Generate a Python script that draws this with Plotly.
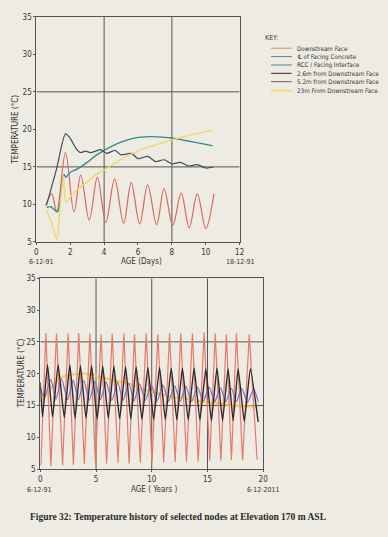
import plotly.graph_objects as go

W, H = 388, 537

# ---------------- Top chart data (age in days) ----------------
top_day_ticks = [0, 2, 4, 6, 8, 10, 12]
top_temp_ticks = [5, 10, 15, 20, 25, 30, 35]

downstream_days = [0.55, 0.9, 1.2, 1.72, 2.22, 2.62, 3.12, 3.6, 4.1, 4.62, 5.15, 5.6, 6.1,
                   6.57, 7.1, 7.54, 8.05, 8.55, 9.02, 9.5, 10.0, 10.48]
downstream_temp = [9.8, 11.4, 9.1, 16.9, 9.0, 13.9, 7.9, 13.6, 7.6, 13.4, 7.5, 12.9, 7.4,
                   12.6, 7.3, 12.1, 7.2, 11.5, 6.9, 11.4, 6.8, 11.4]

centre_days = [0.6, 1.2, 1.72, 2.0, 2.35, 2.6, 2.9, 3.2, 3.5, 3.8, 4.15, 4.64, 5.0, 5.6,
               6.0, 6.57, 7.05, 7.54, 8.0, 8.5, 9.0, 9.5, 10.0, 10.43]
centre_temp = [9.9, 14.8, 19.4, 18.8, 17.4, 16.9, 17.1, 16.9, 17.1, 17.3, 16.8, 17.2, 16.6, 16.8,
               16.1, 16.4, 15.7, 15.95, 15.4, 15.6, 15.1, 15.3, 14.85, 14.95]

rcc_days = [0.6, 0.85, 1.25, 1.5, 1.64, 1.74, 1.95, 2.4, 3.0, 3.5, 4.0, 4.5, 5.0, 5.7,
            6.4, 7.15, 8.0, 8.6, 9.3, 10.0, 10.4]
rcc_temp = [9.6, 9.7, 9.0, 12.5, 14.0, 13.6, 14.2, 14.7, 15.6, 16.5, 17.2, 17.8, 18.3, 18.8,
            19.0, 19.0, 18.85, 18.6, 18.3, 18.0, 17.8]

far_days = [0.6, 0.9, 1.2, 1.45, 1.6, 1.75, 2.2, 2.6, 3.0, 3.5, 4.0, 4.5, 5.0, 5.5, 6.0,
            7.0, 8.0, 9.0, 10.4]
far_temp = [9.3, 7.5, 5.3, 11.0, 13.8, 10.3, 11.5, 12.3, 13.0, 13.9, 14.6, 15.3, 16.0, 16.6, 17.1,
            17.9, 18.6, 19.2, 19.9]

# ---------------- Bottom chart data (age in years) ----------------
bot_year_ticks = [0, 5, 10, 15, 20]
bot_temp_ticks = [5, 10, 15, 20, 25, 30, 35]

face_years = [0.05, 0.5, 0.95, 1.45, 2.0, 2.5, 2.97, 3.45, 3.95, 4.45,
              4.95, 5.45, 5.95, 6.45, 6.97, 7.5, 7.97, 8.45, 8.97, 9.5,
              10.02, 10.55, 11.07, 11.6, 12.1, 12.6, 13.12, 13.65, 14.17, 14.7,
              15.2, 15.7, 16.2, 16.7, 17.15, 17.6, 18.15, 18.75, 19.45]
face_temp = [5.6, 26.4, 5.5, 26.3, 5.6, 26.3, 5.7, 26.4, 5.8, 26.3,
             5.8, 26.2, 5.9, 26.3, 6.0, 26.3, 5.9, 26.2, 6.0, 26.3,
             6.0, 26.2, 6.1, 26.4, 6.1, 26.3, 6.2, 26.3, 6.2, 26.5,
             6.3, 26.3, 6.3, 26.2, 6.4, 26.3, 6.4, 26.2, 6.5]

node26_years = [0.0, 0.2, 0.65, 1.1, 1.6, 2.15, 2.65, 3.12, 3.6, 4.1,
                4.6, 5.1, 5.6, 6.1, 6.6, 7.12, 7.65, 8.12, 8.6, 9.12,
                9.65, 10.17, 10.7, 11.22, 11.75, 12.25, 12.75, 13.27, 13.8, 14.32,
                14.85, 15.35, 15.85, 16.35, 16.85, 17.3, 17.75, 18.3, 18.85, 19.55]
node26_temp = [18.6, 13.2, 21.4, 13.2, 21.4, 13.1, 21.4, 13.0, 21.3, 13.0,
               21.3, 12.9, 21.2, 13.0, 21.2, 12.9, 21.1, 12.9, 21.1, 12.8,
               21.0, 12.8, 21.0, 12.8, 20.9, 12.7, 20.9, 12.7, 20.9, 12.7,
               20.8, 12.6, 20.9, 12.6, 20.8, 12.6, 20.8, 12.5, 20.8, 12.4]

node52_years = [0.0, 0.35, 0.95, 1.4, 1.9, 2.45, 2.95, 3.42, 3.9, 4.4,
                4.9, 5.4, 5.9, 6.42, 6.95, 7.42, 7.95, 8.42, 8.9, 9.42,
                9.95, 10.47, 11.0, 11.52, 12.05, 12.55, 13.05, 13.57, 14.1, 14.62,
                15.15, 15.65, 16.15, 16.65, 17.15, 17.6, 18.05, 18.6, 19.15, 19.55]
node52_temp = [17.9, 16.2, 19.1, 16.0, 19.2, 15.9, 19.0, 15.9, 18.9, 15.8,
               18.8, 15.9, 18.7, 15.8, 18.6, 15.8, 18.5, 15.7, 18.4, 15.8,
               18.3, 15.7, 18.2, 15.7, 18.1, 15.7, 18.0, 15.6, 17.9, 15.7,
               17.9, 15.6, 17.8, 15.6, 17.7, 15.6, 17.7, 15.5, 17.6, 15.6]

node23_years = [0, 0.5, 1, 1.5, 2, 3, 4, 5, 6, 7, 8, 9, 10, 11, 12, 13, 14, 15, 16, 17, 18, 19.5]
node23_temp = [15.6, 16.5, 17.8, 18.8, 19.5, 19.9, 20.0, 19.7, 19.2, 18.8, 18.4, 17.7, 17.1,
               16.7, 16.3, 16.1, 15.8, 15.5, 15.3, 15.1, 14.9, 14.8]

key_labels = ["Downstream Face", "\u2104 of Facing Concrete", "RCC / Facing Interface",
              "2.6m from Downstream Face", "5.2m from Downstream Face", "23m From Downstream Face"]
key_colors = ["#d98a6a", "#6d7b88", "#3f8c8c", "#2a2a2a", "#86506e", "#f0d878"]

# ---------------- styling ----------------
BG = "#eeebe3"
AX = "#555555"
FAM = "Liberation Sans Narrow, DejaVu Sans Condensed, Roboto Condensed, sans-serif"
TICKFONT = dict(family=FAM, size=8, color="#333333")
RED, DARK, TEAL, YEL = "#d9665f", "#3d5060", "#2f8a8a", "#efd864"
BRED, BBLACK, BPURP, BYEL = "#e9786b", "#2b2b2b", "#7a72c4", "#f0d060"


def px(x):
    return x / W


def py(y):
    return 1 - y / H


fig = go.Figure()

# top traces
fig.add_trace(go.Scatter(x=downstream_days, y=downstream_temp, mode="lines", name=key_labels[0],
                         line=dict(color=RED, width=1.2, shape="spline", smoothing=1.0),
                         xaxis="x", yaxis="y"))
fig.add_trace(go.Scatter(x=rcc_days, y=rcc_temp, mode="lines", name=key_labels[2],
                         line=dict(color=TEAL, width=1.3, shape="spline", smoothing=0.7),
                         xaxis="x", yaxis="y"))
fig.add_trace(go.Scatter(x=centre_days, y=centre_temp, mode="lines", name=key_labels[1],
                         line=dict(color=DARK, width=1.2, shape="spline", smoothing=0.7),
                         xaxis="x", yaxis="y"))
fig.add_trace(go.Scatter(x=far_days, y=far_temp, mode="lines", name=key_labels[5],
                         line=dict(color=YEL, width=1.4, shape="spline", smoothing=0.6),
                         xaxis="x", yaxis="y"))

# bottom traces
fig.add_trace(go.Scatter(x=node23_years, y=node23_temp, mode="lines", name=key_labels[5],
                         line=dict(color=BYEL, width=2.2, shape="spline", smoothing=1.0),
                         xaxis="x2", yaxis="y2"))
fig.add_trace(go.Scatter(x=face_years, y=face_temp, mode="lines", name=key_labels[0],
                         line=dict(color=BRED, width=1.2),
                         xaxis="x2", yaxis="y2"))
fig.add_trace(go.Scatter(x=node52_years, y=node52_temp, mode="lines", name=key_labels[4],
                         line=dict(color=BPURP, width=1.2, shape="spline", smoothing=0.6),
                         xaxis="x2", yaxis="y2"))
fig.add_trace(go.Scatter(x=node26_years, y=node26_temp, mode="lines", name=key_labels[3],
                         line=dict(color=BBLACK, width=1.4, shape="spline", smoothing=0.4),
                         xaxis="x2", yaxis="y2"))

axis_common = dict(showgrid=False, zeroline=False, showline=True, mirror=True,
                   linecolor=AX, linewidth=1, ticks="outside", ticklen=2, tickcolor=AX,
                   tickfont=TICKFONT)

shapes = []
# grid lines
for v in [4, 8]:
    shapes.append(dict(type="line", xref="x", yref="y", x0=v, x1=v, y0=5, y1=35,
                       line=dict(color=AX, width=1), layer="below"))
for v in [15, 25]:
    shapes.append(dict(type="line", xref="x", yref="y", x0=0, x1=12, y0=v, y1=v,
                       line=dict(color=AX, width=1), layer="below"))
for v in [5, 10, 15]:
    shapes.append(dict(type="line", xref="x2", yref="y2", x0=v, x1=v, y0=5, y1=35,
                       line=dict(color=AX, width=1), layer="below"))
for v in [15, 25]:
    shapes.append(dict(type="line", xref="x2", yref="y2", x0=0, x1=20, y0=v, y1=v,
                       line=dict(color=AX, width=1), layer="below"))

annotations = []
LBL = dict(family=FAM, size=8, color="#333333")


def text(x, y, s, size=8, anchor="center", angle=0):
    f = dict(LBL)
    f["size"] = size
    annotations.append(dict(x=px(x), y=py(y), xref="paper", yref="paper", text=s,
                            showarrow=False, xanchor=anchor, yanchor="middle",
                            textangle=angle, font=f))


# top chart labels
text(40, 262, "6-12-91", 7)
text(243, 262, "18-12-91", 7)
text(142, 262, "AGE (Days)", 8)
text(14, 128, "TEMPERATURE (\u00b0C)", 8, angle=-90)
# bottom chart labels
text(38, 494, "6-12-91", 7)
text(155, 494, "AGE ( Years )", 8)
text(266, 494, "6-12-2011", 7)
text(20, 376, "TEMPERATURE (\u00b0C)", 8, angle=-90)

# key
text(266, 35, "KEY:", 7, anchor="left")
key_y = [45, 53.5, 62, 70.5, 79, 88]
for lab, col, yy in zip(key_labels, key_colors, key_y):
    shapes.append(dict(type="line", xref="paper", yref="paper", x0=px(274), x1=px(295),
                       y0=py(yy), y1=py(yy), line=dict(color=col, width=2 if col == "#f0d878" else 1)))
    text(298, yy, lab, 6.3, anchor="left")

# caption
annotations.append(dict(x=px(26), y=py(522), xref="paper", yref="paper",
                        text="<b>Figure 32: Temperature history of selected nodes at Elevation 170 m ASL</b>",
                        showarrow=False, xanchor="left", yanchor="middle",
                        font=dict(family="Liberation Serif, DejaVu Serif, serif", size=9.5, color="#2a2a2a")))

fig.update_layout(
    width=W, height=H, autosize=False,
    margin=dict(l=0, r=0, t=0, b=0),
    paper_bgcolor=BG, plot_bgcolor=BG,
    showlegend=False,
    xaxis=dict(domain=[px(35), px(242)], anchor="y", range=[0, 12], tickvals=top_day_ticks,
               ticktext=[str(v) for v in top_day_ticks], **axis_common),
    yaxis=dict(domain=[py(242), py(13)], anchor="x", range=[5, 35], tickvals=top_temp_ticks,
               ticktext=[str(v) for v in top_temp_ticks], **axis_common),
    xaxis2=dict(domain=[px(39), px(266)], anchor="y2", range=[0, 20], tickvals=bot_year_ticks,
                ticktext=[str(v) for v in bot_year_ticks], **axis_common),
    yaxis2=dict(domain=[py(473), py(279)], anchor="x2", range=[5, 35], tickvals=bot_temp_ticks,
                ticktext=[str(v) for v in bot_temp_ticks], **axis_common),
    shapes=shapes,
    annotations=annotations,
)

fig.write_html(
    "out.html",
    config={"displayModeBar": False},
    post_script="document.body.style.margin='0';document.body.style.background='%s';"
                "document.body.style.overflow='hidden';" % BG,
)
